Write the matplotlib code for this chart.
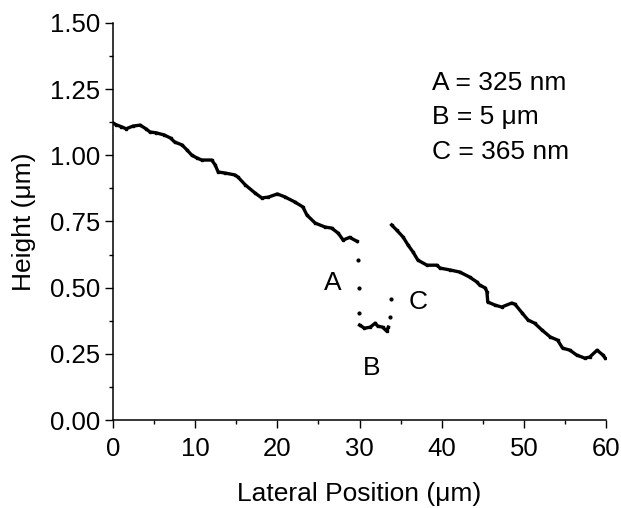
#!/usr/bin/env python3
# -*- coding: utf-8 -*-
"""
Perfil de altura lateral con escalones A, B, C.
"""

import matplotlib
matplotlib.use('Agg')
import matplotlib.pyplot as plt
from matplotlib.ticker import MultipleLocator, FormatStrFormatter

AxisLabelSize = 19
NumberSize = 18.5
NoteSize = 19

plt.close('all')
plt.rc('font', family=['Liberation Sans', 'DejaVu Sans'])

#%% datos leidos del perfil

# tramo superior izquierdo
x_left = [0.0, 0.4, 1.0, 1.6, 2.4, 3.3, 4.0, 4.5, 5.2, 6.2, 7.0, 7.5, 8.4, 9.0,
          9.6, 10.2, 10.8, 12.0, 12.4, 12.8, 13.6, 14.8, 15.2, 16.1, 17.3, 18.1,
          18.9, 20.0, 20.9, 22.1, 23.1, 23.6, 24.6, 25.8, 26.6, 27.4, 28.0, 28.8,
          29.7]
h_left = [1.122, 1.115, 1.108, 1.100, 1.110, 1.114, 1.100, 1.088, 1.085, 1.077,
          1.065, 1.050, 1.039, 1.020, 1.000, 0.990, 0.982, 0.982, 0.965, 0.937,
          0.933, 0.926, 0.918, 0.888, 0.857, 0.839, 0.842, 0.854, 0.843, 0.824,
          0.805, 0.774, 0.744, 0.729, 0.725, 0.706, 0.680, 0.690, 0.675]

# puntos sueltos en la pared A
x_a = [29.8, 29.9, 29.9]
h_a = [0.604, 0.500, 0.405]

# fondo B
x_b = [30.0, 30.6, 31.3, 31.9, 32.2, 32.8, 33.3, 33.5]
h_b = [0.359, 0.347, 0.351, 0.366, 0.355, 0.351, 0.336, 0.351]

# puntos sueltos en la pared C
x_c = [33.7, 33.8]
h_c = [0.389, 0.457]

# tramo derecho
x_right = [33.9, 34.5, 35.3, 35.9, 36.5, 37.1, 38.2, 39.4, 39.8, 41.0, 42.2,
           43.4, 44.3, 44.6, 45.3, 45.5, 45.6, 46.5, 47.3, 48.5, 48.9, 49.8,
           50.5, 51.3, 52.2, 53.2, 54.1, 54.7, 55.6, 56.4, 57.4, 58.0, 58.9,
           59.6, 59.9]
h_right = [0.737, 0.718, 0.691, 0.661, 0.635, 0.604, 0.585, 0.585, 0.574, 0.567,
           0.559, 0.540, 0.521, 0.510, 0.499, 0.484, 0.446, 0.434, 0.427, 0.442,
           0.438, 0.404, 0.378, 0.366, 0.340, 0.314, 0.302, 0.272, 0.264, 0.246,
           0.234, 0.238, 0.264, 0.246, 0.234]

notes = ['A = 325 nm', 'B = 5 \u03bcm', 'C = 365 nm']

#%%

fig = plt.figure(figsize=(6.21, 5.08), dpi=100)
ax = fig.add_axes([0.182, 0.173, 0.794, 0.782])

for xs, hs in [(x_left, h_left), (x_b, h_b), (x_right, h_right)]:
    ax.plot(xs, hs, color='black', linewidth=2.4, marker='s', markersize=1.8)
for xs, hs in [(x_a, h_a), (x_c, h_c)]:
    ax.plot(xs, hs, linestyle='none', color='black', marker='o', markersize=2.0)

ax.text(26.8, 0.518, 'A', fontsize=NoteSize, ha='center', va='center')
ax.text(31.5, 0.196, 'B', fontsize=NoteSize, ha='center', va='center')
ax.text(37.1, 0.446, 'C', fontsize=NoteSize, ha='center', va='center')

for i, s in enumerate(notes):
    ax.text(38.8, 1.272 - i * 0.129, s, fontsize=NoteSize, ha='left', va='center')

ax.set_xlim(0, 60)
ax.set_ylim(0, 1.5)
ax.xaxis.set_major_locator(MultipleLocator(10))
ax.xaxis.set_minor_locator(MultipleLocator(5))
ax.yaxis.set_major_locator(MultipleLocator(0.25))
ax.yaxis.set_minor_locator(MultipleLocator(0.125))
ax.yaxis.set_major_formatter(FormatStrFormatter('%.2f'))

ax.spines['top'].set_visible(False)
ax.spines['right'].set_visible(False)
for sp in ['left', 'bottom']:
    ax.spines[sp].set_linewidth(1.1)

ax.tick_params(which='major', direction='out', length=6, width=1, labelsize=NumberSize, pad=3.5)
ax.tick_params(axis='x', which='major', pad=6)
ax.tick_params(which='minor', direction='out', length=3, width=1)

ax.set_xlabel('Lateral Position (\u03bcm)', fontsize=AxisLabelSize, labelpad=15)
ax.set_ylabel('Height (\u03bcm)', fontsize=AxisLabelSize, labelpad=10)

plt.savefig('out.png', dpi=100)
